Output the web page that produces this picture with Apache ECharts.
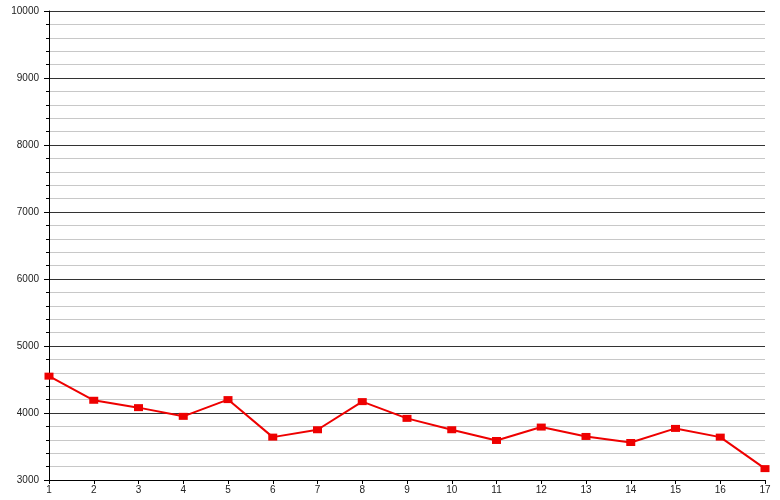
<!DOCTYPE html>
<html>
<head>
<meta charset="utf-8">
<script src="https://cdn.jsdelivr.net/npm/echarts@6/dist/echarts.min.js"></script>
<style>html,body{margin:0;padding:0;background:#fff}#c{width:780px;height:500px}</style>
</head>
<body>
<div id="c"></div>
<script>
const categories = ['1','2','3','4','5','6','7','8','9','10','11','12','13','14','15','16','17'];
const values = [4550, 4190, 4080, 3950, 4200, 3640, 3750, 4170, 3920, 3750, 3590, 3790, 3650, 3560, 3770, 3640, 3170];
const yMin = 3000, yMax = 10000, yStep = 1000;

const chart = echarts.init(document.getElementById('c'), null, {renderer: 'canvas'});
chart.setOption({
  animation: false,
  grid: {left: 49, right: 15, top: 11, bottom: 20},
  xAxis: {
    type: 'category',
    data: categories,
    boundaryGap: false,
    axisLine: {lineStyle: {color: '#000', width: 1}},
    axisTick: {show: true, alignWithLabel: true, length: 4, lineStyle: {color: '#000'}},
    axisLabel: {color: '#222', fontSize: 10, fontFamily: 'Liberation Sans, Arial, sans-serif', margin: 5, interval: 0},
    splitLine: {show: false}
  },
  yAxis: {
    type: 'value',
    min: yMin, max: yMax, interval: yStep,
    axisLine: {show: true, lineStyle: {color: '#000', width: 1}},
    axisTick: {show: true, length: 5, lineStyle: {color: '#000'}},
    minorTick: {show: true, splitNumber: 5, length: 3, lineStyle: {color: '#000'}},
    axisLabel: {color: '#222', fontSize: 10, fontFamily: 'Liberation Sans, Arial, sans-serif', margin: 10, formatter: v => String(v)},
    splitLine: {show: true, lineStyle: {color: '#333', width: 1}},
    minorSplitLine: {show: true, lineStyle: {color: '#c8c8c8', width: 1}}
  },
  series: [{
    type: 'line',
    data: values,
    symbol: 'rect',
    symbolSize: [9, 7],
    showAllSymbol: true,
    lineStyle: {color: '#ee0000', width: 2},
    itemStyle: {color: '#ee0000'}
  }]
});
</script>
</body>
</html>
